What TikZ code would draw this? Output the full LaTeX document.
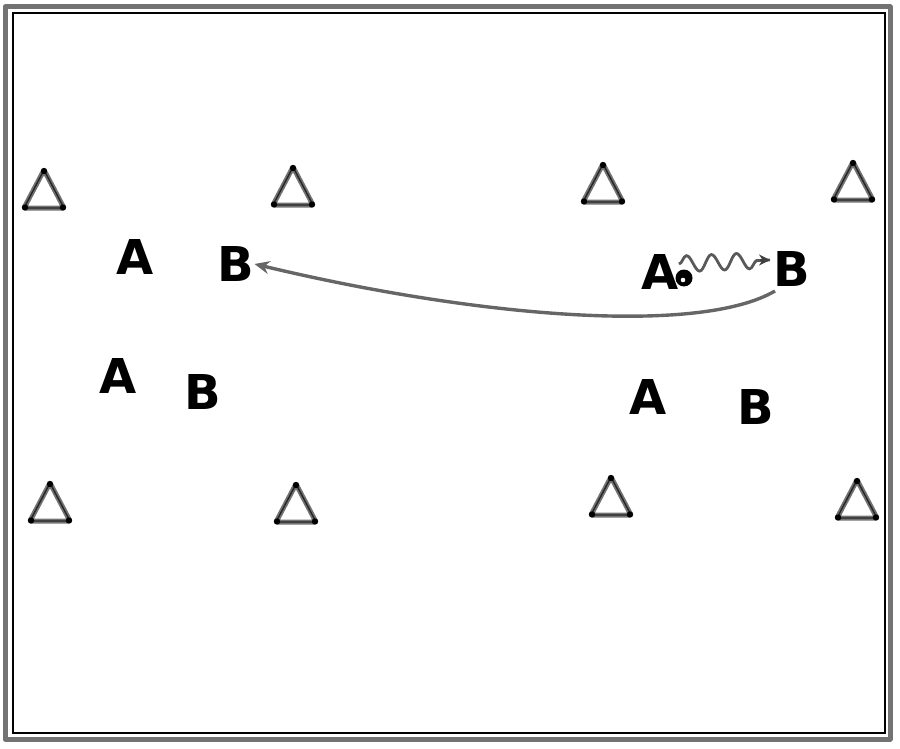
\documentclass[tikz,border=0pt]{standalone}
\usepackage{fontspec}
\newfontfamily\lettfont{DejaVu Sans}
\usetikzlibrary{arrows.meta,decorations.pathmorphing}
\begin{document}
\begin{tikzpicture}[x=1pt,y=-1pt,
  lett/.style={inner sep=0pt,text depth=0pt,font=\lettfont\bfseries\fontsize{48}{48}\selectfont},
  cone/.pic={
    \draw[black!55,line width=5pt,line join=round,rounded corners=2pt] (0,-20) -- (20,18) -- (-20,18) -- cycle;
    \draw[black!85,line width=1.4pt,line join=round,rounded corners=2pt] (0,-20) -- (20,18) -- (-20,18) -- cycle;
    \fill[black] (0,-19) circle (3.2) (19,17.5) circle (3.2) (-19,17.5) circle (3.2);
  },
  pass/.style={black!60,line width=3.4pt},
]
\useasboundingbox (0,0) rectangle (900,749);
% frame
\draw[black!55,line width=5pt,line join=round] (5,7) rectangle (890,739);
\draw[black,line width=1.6pt] (13,13) rectangle (885,733);
% cones
\pic at (44,190) {cone};
\pic at (293,187) {cone};
\pic at (603,184) {cone};
\pic at (853,182) {cone};
\pic at (50,503) {cone};
\pic at (296,504) {cone};
\pic at (611,497) {cone};
\pic at (857,500) {cone};
% players
\node[lett] (a1) at (135,257) {A};
\node[lett] (b1) at (236,264) {B};
\node[lett] (a2) at (118,376) {A};
\node[lett] (b2) at (203,392) {B};
\node[lett] (a3) at (660,272) {A};
\node[lett] (b3) at (792,269) {B};
\node[lett] (a4) at (648,397) {A};
\node[lett] (b4) at (756,407) {B};
% ball
\node[circle,fill=black,minimum size=17pt,inner sep=0pt] (ball) at (684,278) {};
\fill[white] (683,280) circle (2.3);
% dribble / wave
\coordinate (wstart) at (679,264);
\coordinate (wend) at (770,260);
\draw[black!65,line width=2.8pt,decorate,decoration={snake,amplitude=8,segment length=25,post length=10pt}]
  (wstart) -- (wend);
\draw[black!75,line width=2.8pt,-{Stealth[length=11pt,width=11pt]}] ([xshift=-10pt]wend) -- (wend);
% pass
\coordinate (pstart) at (775,291);
\draw[pass,-{Stealth[length=15pt,width=13pt]}] (pstart) .. controls (700,335) and (480,318) .. (b1.east);
\end{tikzpicture}
\end{document}
